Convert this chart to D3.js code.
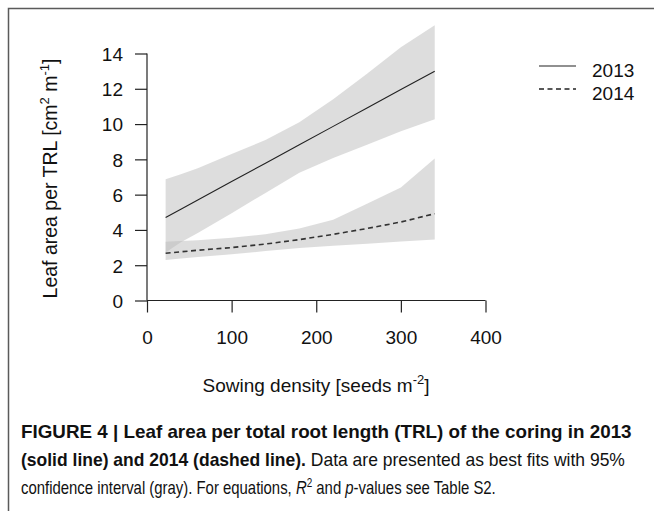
<html>
<meta charset="utf-8">
<script src="https://d3js.org/d3.v7.min.js"></script>
<style>
  body { margin: 0; background: #fff; }
  text { font-family: Arial, "Liberation Sans", sans-serif; fill: #111; }
</style>
<div id="my_dataviz"></div>

<script>
// sowing density grid the fits were read at
let density = [22, 40, 60, 100, 140, 180, 220, 260, 300, 340]

let fit2013   = [4.70, 5.17, 5.70, 6.74, 7.78, 8.83, 9.87, 10.91, 11.96, 13.00]
let upper2013 = [6.87, 7.15, 7.50, 8.30, 9.10, 10.10, 11.40, 12.85, 14.35, 15.60]
let lower2013 = [2.72, 3.30, 3.83, 4.95, 6.10, 7.24, 8.08, 8.83, 9.60, 10.27]

let fit2014   = [2.68, 2.76, 2.85, 3.00, 3.20, 3.45, 3.75, 4.08, 4.45, 4.92]
let upper2014 = [3.33, 3.37, 3.42, 3.55, 3.75, 4.08, 4.58, 5.48, 6.40, 8.05]
let lower2014 = [2.30, 2.38, 2.46, 2.62, 2.80, 2.98, 3.10, 3.22, 3.35, 3.46]

let years = ["2013", "2014"]
let xTicks = [0, 100, 200, 300, 400]
let yTicks = [0, 2, 4, 6, 8, 10, 12, 14]

let width = 654,
    height = 511

let svg = d3.select("#my_dataviz")
  .append("svg")
    .attr("width", width)
    .attr("height", height)

// figure frame (open to right and bottom like the page crop)
svg.append("rect")
  .attr("x", 8.5).attr("y", 8.5)
  .attr("width", 700).attr("height", 600)
  .attr("fill", "none")
  .attr("stroke", "#5a5a5a")
  .attr("stroke-width", 1.5)

let x = d3.scaleLinear().domain([0, 400]).range([147, 485.5])
let y = d3.scaleLinear().domain([0, 14]).range([300.5, 53.5])

function band(up, lo) {
  return d3.area()
    .x(function(d, i) { return x(density[i]) })
    .y0(function(d, i) { return y(lo[i]) })
    .y1(function(d, i) { return y(up[i]) })(density)
}
function fitLine(vals) {
  return d3.line()
    .x(function(d, i) { return x(density[i]) })
    .y(function(d, i) { return y(vals[i]) })(density)
}

let bands = [[upper2013, lower2013], [upper2014, lower2014]]
svg.selectAll(".ci")
  .data(bands)
  .enter()
  .append("path")
    .attr("class", "ci")
    .attr("d", function(b) { return band(b[0], b[1]) })
    .attr("fill", "#bcbcbc")
    .attr("fill-opacity", 0.5)

let dashes = [null, "5,3.5"]
let fits = [fit2013, fit2014]
svg.selectAll(".fit")
  .data(fits)
  .enter()
  .append("path")
    .attr("class", "fit")
    .attr("d", function(v) { return fitLine(v) })
    .attr("fill", "none")
    .attr("stroke", function(v, i) { return i == 0 ? "#222" : "#333" })
    .attr("stroke-width", function(v, i) { return i == 0 ? 1.1 : 1.6 })
    .attr("stroke-dasharray", function(v, i) { return dashes[i] })

// axes, R style: line spans only first..last tick
let xAxis = svg.append("g")
  .attr("transform", "translate(0," + y(0) + ")")
  .call(d3.axisBottom(x).tickValues(xTicks).tickSize(12).tickPadding(12).tickFormat(d3.format("d")))
xAxis.select(".domain").attr("d", "M" + x(0) + ",0H" + x(400))
let yAxis = svg.append("g")
  .attr("transform", "translate(" + x(0) + ",0)")
  .call(d3.axisLeft(y).tickValues(yTicks).tickSize(12).tickPadding(12).tickFormat(d3.format("d")))
yAxis.select(".domain").attr("d", "M0," + y(0) + "V" + y(14))

svg.selectAll(".tick line, .domain").attr("stroke", "#222").attr("stroke-width", 1.2)
svg.selectAll(".tick text")
  .attr("font-size", "19px")
  .attr("font-family", "Arial, 'Liberation Sans', sans-serif")
  .attr("fill", "#111")
xAxis.selectAll(".tick text").attr("dy", "1.0em")
yAxis.selectAll(".tick text").attr("dy", "0.36em")

// axis titles
let xt = svg.append("text")
  .attr("x", 316).attr("y", 392)
  .attr("text-anchor", "middle")
  .attr("font-size", "19px")
xt.append("tspan").text("Sowing density [seeds m")
xt.append("tspan").attr("dy", -8).attr("font-size", "13px").text("-2")
xt.append("tspan").attr("dy", 8).text("]")

let yt = svg.append("text")
  .attr("transform", "translate(57,178.5) rotate(-90)")
  .attr("text-anchor", "middle")
  .attr("font-size", "19.5px")
yt.append("tspan").text("Leaf area per TRL [cm")
yt.append("tspan").attr("dy", -8).attr("font-size", "13px").text("2")
yt.append("tspan").attr("dy", 8).text(" m")
yt.append("tspan").attr("dy", -8).attr("font-size", "13px").text("-1")
yt.append("tspan").attr("dy", 8).text("]")

// legend
let legend = svg.selectAll(".leg")
  .data(years)
  .enter()
  .append("g")
    .attr("class", "leg")
    .attr("transform", function(d, i) { return "translate(539," + (66 + i * 23) + ")" })
legend.append("line")
  .attr("x1", 0).attr("x2", 37)
  .attr("stroke", "#222")
  .attr("stroke-width", function(d, i) { return i == 0 ? 1.1 : 1.4 })
  .attr("stroke-dasharray", function(d, i) { return dashes[i] })
legend.append("text")
  .attr("x", 53).attr("y", 10.5)
  .attr("font-size", "19px")
  .text(function(d) { return d })

// caption: reference face is condensed, so squeeze each line to its width
function squeeze(t, x0, y0, w) {
  let natural = t.node().getComputedTextLength()
  t.attr("transform", "translate(" + x0 + "," + y0 + ") scale(" + (w / natural) + ",1)")
}

let cap1 = svg.append("text")
  .attr("font-size", "18px").attr("font-weight", "bold")
  .text("FIGURE 4 | Leaf area per total root length (TRL) of the coring in 2013")
squeeze(cap1, 21, 438, 611)

let cap2 = svg.append("text")
  .attr("font-size", "18px")
cap2.append("tspan").attr("font-weight", "bold").text("(solid line) and 2014 (dashed line).")
cap2.append("tspan").text(" Data are presented as best fits with 95%")
squeeze(cap2, 21, 466, 604)

let cap3 = svg.append("text")
  .attr("font-size", "18px")
cap3.append("tspan").text("confidence interval (gray). For equations, ")
cap3.append("tspan").attr("font-style", "italic").text("R")
cap3.append("tspan").attr("dy", -7).attr("font-size", "12px").text("2")
cap3.append("tspan").attr("dy", 7).text(" and ")
cap3.append("tspan").attr("font-style", "italic").text("p")
cap3.append("tspan").text("-values see Table S2.")
squeeze(cap3, 21, 494, 475)
</script>
</html>
